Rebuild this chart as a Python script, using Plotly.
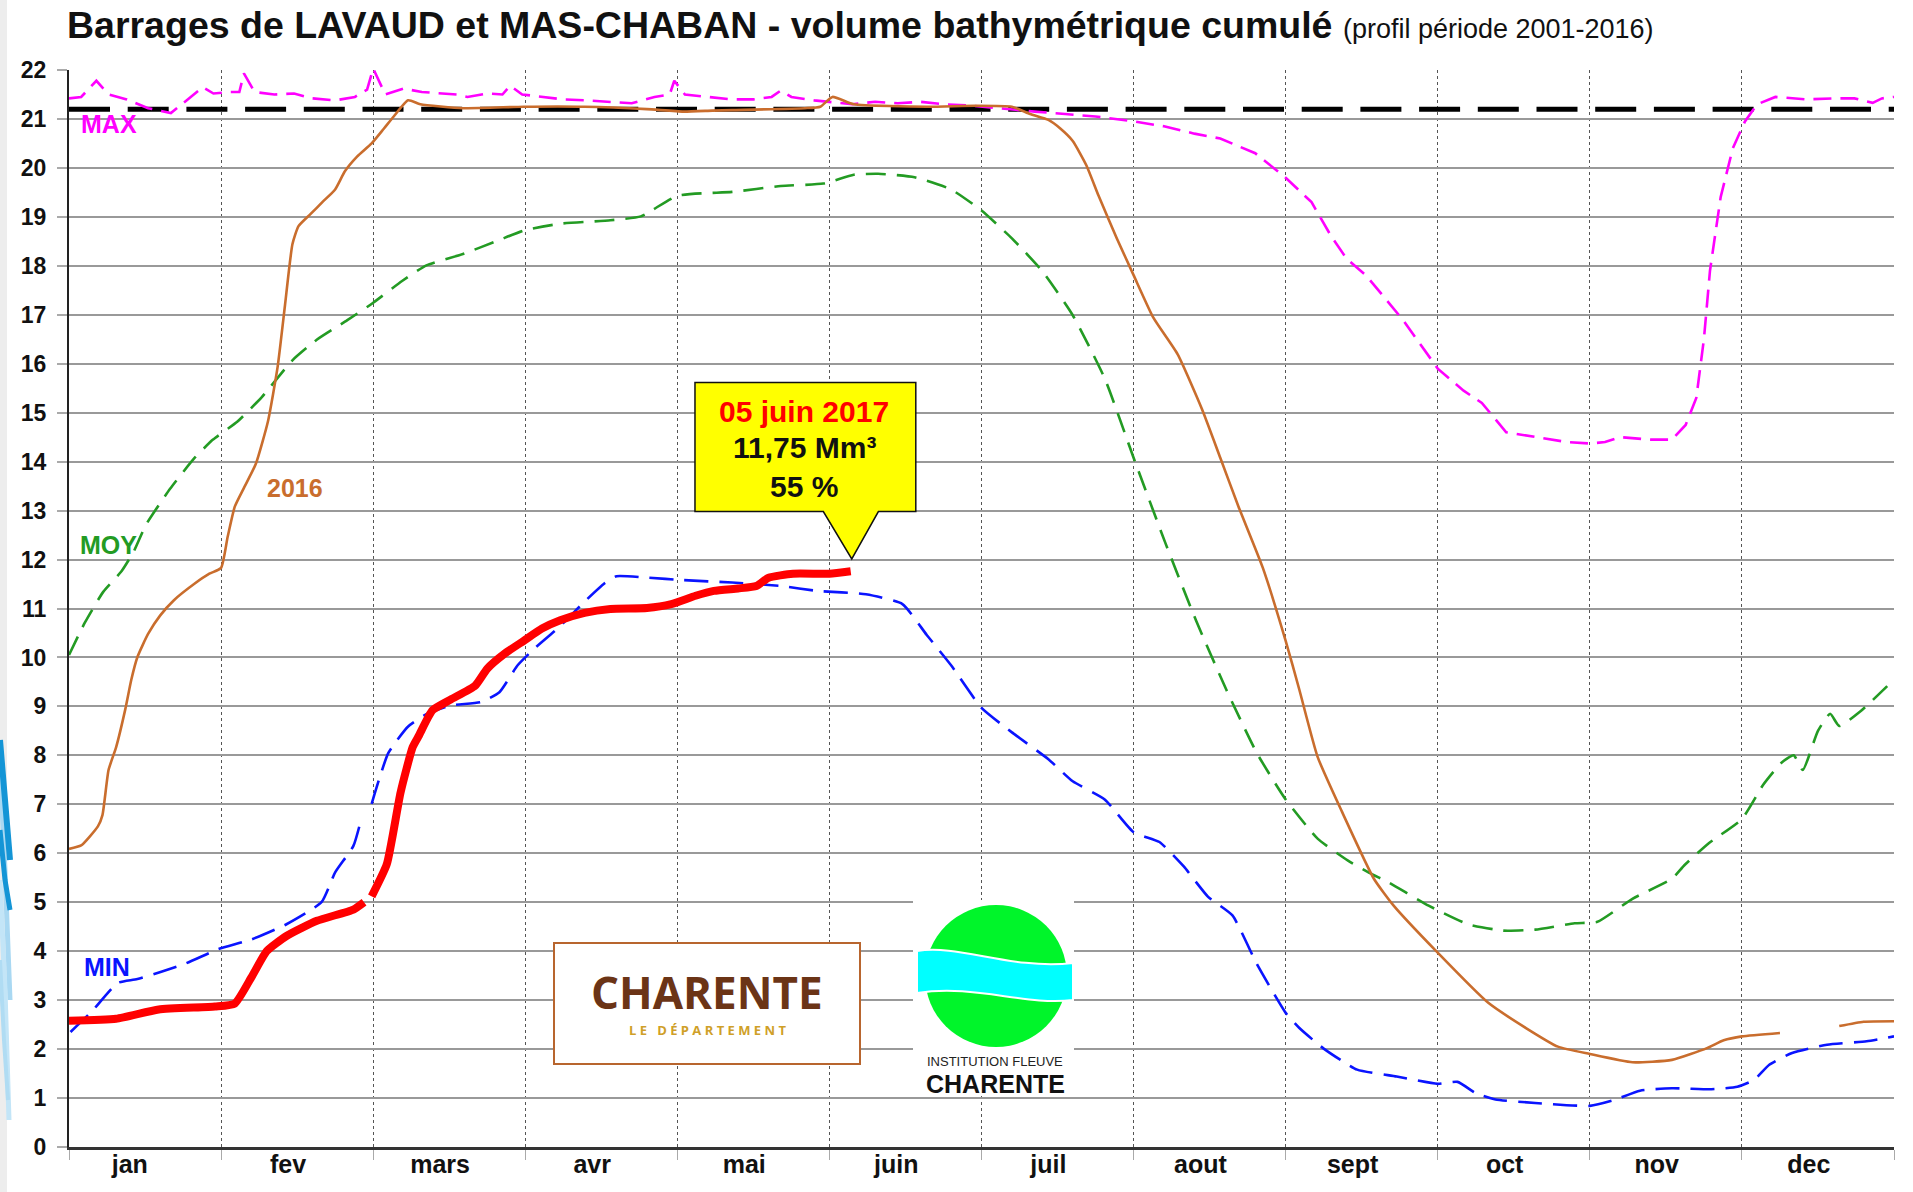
import plotly.graph_objects as go

# ---------------- data (x = month position, 0 = 1 Jan, 12 = 31 Dec) ----------------
month_labels = ["jan", "fev", "mars", "avr", "mai", "juin", "juil", "aout", "sept", "oct", "nov", "dec"]
y_ticks = list(range(0, 23))

max_x = [0.00, 0.08, 0.18, 0.26, 0.38, 0.52, 0.67, 0.78, 0.88, 0.95, 1.05, 1.12, 1.15, 1.22, 1.35, 1.48,
         1.60, 1.75, 1.88, 1.96, 2.00, 2.08, 2.20, 2.32, 2.45, 2.55, 2.62, 2.75, 2.85, 2.90, 2.98, 3.10,
         3.25, 3.40, 3.55, 3.70, 3.85, 3.95, 3.98, 4.05, 4.20, 4.35, 4.50, 4.62, 4.68, 4.75, 4.90, 5.00,
         5.15, 5.30, 5.45, 5.60, 5.75, 5.90, 6.00, 6.15, 6.35, 6.55, 6.75, 7.00, 7.20, 7.40, 7.57, 7.80,
         8.00, 8.17, 8.30, 8.40, 8.53, 8.77, 9.00, 9.17, 9.29, 9.45, 9.65, 9.85, 10.00, 10.10, 10.20,
         10.40, 10.54, 10.63, 10.70, 10.75, 10.79, 10.86, 10.94, 11.02, 11.10, 11.22, 11.42, 11.60,
         11.74, 11.86, 11.92, 12.00]
max_y = [21.42, 21.45, 21.78, 21.50, 21.40, 21.22, 21.12, 21.40, 21.65, 21.52, 21.55, 21.55, 21.93, 21.55,
         21.50, 21.52, 21.42, 21.38, 21.45, 21.60, 22.03, 21.50, 21.62, 21.55, 21.52, 21.50, 21.45, 21.52,
         21.50, 21.68, 21.50, 21.45, 21.40, 21.38, 21.35, 21.32, 21.45, 21.50, 21.78, 21.50, 21.45, 21.40,
         21.40, 21.45, 21.58, 21.45, 21.38, 21.35, 21.30, 21.35, 21.32, 21.35, 21.30, 21.28, 21.25, 21.20,
         21.15, 21.10, 21.05, 20.95, 20.85, 20.70, 20.60, 20.30, 19.80, 19.30, 18.60, 18.15, 17.80, 16.90,
         15.90, 15.45, 15.20, 14.60, 14.50, 14.40, 14.37, 14.40, 14.50, 14.45, 14.45, 14.75, 15.30, 16.50,
         17.90, 19.40, 20.40, 20.95, 21.30, 21.45, 21.40, 21.42, 21.42, 21.33, 21.42, 21.45]

moy_x = [0.00, 0.104, 0.225, 0.345, 0.425, 0.506, 0.666, 0.827, 0.947, 1.108, 1.268, 1.469, 1.629, 1.83,
         1.998, 2.19, 2.35, 2.59, 2.83, 3.00, 3.23, 3.56, 3.76, 4.00, 4.36, 4.68, 4.96, 5.16, 5.32, 5.56,
         5.80, 6.00, 6.20, 6.40, 6.60, 6.81, 7.00, 7.21, 7.41, 7.61, 7.81, 8.00, 8.21, 8.41, 8.55, 8.68,
         8.94, 9.20, 9.43, 9.64, 9.90, 10.05, 10.28, 10.54, 10.62, 10.78, 11.00, 11.14, 11.26, 11.34,
         11.40, 11.50, 11.58, 11.64, 11.78, 12.00]
moy_y = [10.05, 10.71, 11.34, 11.76, 12.16, 12.71, 13.45, 14.08, 14.45, 14.82, 15.32, 16.07, 16.49, 16.89,
         17.24, 17.69, 18.01, 18.24, 18.53, 18.73, 18.86, 18.93, 19.01, 19.43, 19.51, 19.63, 19.68, 19.86,
         19.88, 19.81, 19.56, 19.13, 18.56, 17.89, 16.99, 15.70, 14.08, 12.33, 10.76, 9.34, 8.05, 7.10,
         6.30, 5.85, 5.60, 5.40, 4.93, 4.55, 4.42, 4.44, 4.57, 4.60, 5.07, 5.48, 5.75, 6.20, 6.70, 7.40,
         7.85, 8.00, 7.70, 8.50, 8.85, 8.60, 8.90, 9.55]

min_x = [0.01, 0.15, 0.32, 0.45, 0.76, 0.98, 1.20, 1.43, 1.66, 1.75, 1.87, 1.925, 1.96, 1.99, 2.10, 2.23,
         2.35, 2.51, 2.71, 2.83, 2.95, 3.07, 3.23, 3.39, 3.52, 3.60, 3.80, 4.04, 4.36, 4.68, 4.92, 5.24,
         5.48, 5.64, 5.80, 6.00, 6.20, 6.44, 6.60, 6.81, 7.00, 7.17, 7.33, 7.49, 7.65, 7.81, 8.00, 8.09,
         8.25, 8.47, 8.73, 9.00, 9.13, 9.25, 9.38, 9.64, 10.00, 10.15, 10.33, 10.54, 10.80, 10.97, 11.08,
         11.18, 11.33, 11.56, 11.82, 12.00]
min_y = [2.35, 2.77, 3.35, 3.43, 3.74, 4.04, 4.24, 4.55, 5.00, 5.61, 6.15, 6.74, None, 7.01, 8.05, 8.59,
         8.84, 9.02, 9.09, 9.29, 9.84, 10.21, 10.64, 11.14, 11.51, 11.66, 11.63, 11.58, 11.53, 11.46, 11.36,
         11.29, 11.09, 10.46, 9.84, 8.97, 8.47, 7.92, 7.47, 7.10, 6.43, 6.23, 5.73, 5.11, 4.73, 3.74, 2.74,
         2.43, 2.01, 1.58, 1.44, 1.29, 1.33, 1.10, 0.97, 0.90, 0.84, 0.95, 1.15, 1.20, 1.18, 1.23, 1.37,
         1.68, 1.92, 2.09, 2.16, 2.26]

y2016_x = [0.00, 0.08, 0.19, 0.22, 0.26, 0.31, 0.37, 0.41, 0.45, 0.52, 0.60, 0.69, 0.827, 0.923, 1.00,
           1.043, 1.09, 1.148, 1.228, 1.308, 1.372, 1.42, 1.469, 1.509, 1.589, 1.669, 1.75, 1.814, 1.894,
           1.99, 2.07, 2.135, 2.23, 2.31, 2.59, 2.99, 3.39, 3.80, 4.04, 4.23, 4.36, 4.84, 4.94, 5.02, 5.16,
           5.64, 5.96, 6.20, 6.32, 6.44, 6.52, 6.60, 6.69, 6.77, 6.89, 7.00, 7.13, 7.29, 7.45, 7.57, 7.69,
           7.85, 8.00, 8.09, 8.21, 8.37, 8.58, 8.71, 8.99, 9.33, 9.58, 9.79, 10.00, 10.28, 10.54, 10.77,
           10.88, 11.00, 11.25, 11.45, 11.64, 11.80, 12.00]
y2016_y = [6.09, 6.16, 6.55, 6.78, 7.70, 8.17, 8.94, 9.55, 10.01, 10.48, 10.86, 11.17, 11.51, 11.71,
           11.83, 12.46, 13.08, 13.45, 13.95, 14.82, 15.94, 17.19, 18.44, 18.81, 19.06, 19.31, 19.56, 19.93,
           20.23, 20.50, 20.80, 21.05, 21.38, 21.30, 21.22, 21.25, 21.25, 21.20, 21.15, 21.17, 21.18, 21.22,
           21.25, 21.45, 21.30, 21.25, 21.27, 21.25, 21.10, 20.98, 20.80, 20.55, 20.05, 19.43, 18.56, 17.81,
           16.94, 16.19, 15.07, 14.08, 13.08, 11.83, 10.34, 9.34, 7.97, 6.85, 5.48, 4.93, 4.00, 2.95, 2.43,
           2.05, 1.90, 1.73, 1.78, 2.02, 2.18, 2.26, 2.33, None, 2.47, 2.56, 2.57]

y2017_x = [0.00, 0.31, 0.59, 0.96, 1.09, 1.20, 1.30, 1.43, 1.63, 1.87, 1.94, 1.965, 1.99, 2.09, 2.18, 2.26,
           2.30, 2.39, 2.51, 2.67, 2.75, 2.87, 2.99, 3.11, 3.23, 3.39, 3.56, 3.80, 3.96, 4.12, 4.24, 4.40,
           4.52, 4.60, 4.76, 5.00, 5.14]
y2017_y = [2.58, 2.62, 2.81, 2.87, 2.93, 3.47, 4.00, 4.31, 4.62, 4.85, 5.00, None, 5.12, 5.78, 7.24, 8.17,
           8.40, 8.92, 9.14, 9.42, 9.77, 10.09, 10.34, 10.59, 10.76, 10.91, 10.99, 11.01, 11.09, 11.26, 11.36,
           11.41, 11.46, 11.63, 11.71, 11.71, 11.76]

max_ref_level = 21.2
current_date = "05 juin 2017"
current_volume = "11,75 Mm³"
current_pct = "55 %"

# ---------------- styling / geometry ----------------
W, H = 1913, 1192
ML, MR, MT, MB = 69, 19, 70, 45
PW, PH = W - ML - MR, H - MT - MB
FONT = "Liberation Sans, Arial, sans-serif"
label_offset = [0.40] + [0.44] * 11


def px(p):
    return (p - ML) / PW


def py(p):
    return (H - MB - p) / PH


def path_px(points, close=True):
    s = "M " + " L ".join(f"{px(x):.5f},{py(y):.5f}" for x, y in points)
    return s + (" Z" if close else "")


fig = go.Figure()

fig.add_trace(go.Scatter(x=[0, 12], y=[max_ref_level, max_ref_level], mode="lines",
                         line=dict(color="black", width=5, dash="41px,17.7px"), hoverinfo="skip"))
fig.add_trace(go.Scatter(x=max_x, y=max_y, mode="lines", name="MAX",
                         line=dict(color="#ff00ff", width=2.6, dash="18px,9px")))
fig.add_trace(go.Scatter(x=moy_x, y=moy_y, mode="lines", name="MOY",
                         line=dict(color="#239b23", width=2.6, dash="20px,11px", shape="spline", smoothing=0.5)))
fig.add_trace(go.Scatter(x=min_x, y=min_y, mode="lines", name="MIN", connectgaps=False,
                         line=dict(color="#0a14ff", width=2.6, dash="24px,11px", shape="spline", smoothing=0.5)))
fig.add_trace(go.Scatter(x=y2016_x, y=y2016_y, mode="lines", name="2016", connectgaps=False,
                         line=dict(color="#c96d2d", width=2.6, shape="spline", smoothing=0.5)))
fig.add_trace(go.Scatter(x=y2017_x, y=y2017_y, mode="lines", name="2017", connectgaps=False,
                         line=dict(color="#ff0000", width=8, shape="spline", smoothing=0.5)))

shapes = []
# left slide decoration
shapes.append(dict(type="rect", xref="paper", yref="paper", x0=px(0), x1=px(7), y0=py(H), y1=py(0),
                   fillcolor="#ededed", line=dict(width=0), layer="below"))
for pts, col, w in [
    ([(0, 765), (5, 870), (10, 1000)], "#a9d8f2", 5),
    ([(0, 880), (5, 990), (9, 1120)], "#c3e5f7", 5),
    ([(0, 960), (4, 1040), (8, 1100)], "#b0dcf3", 4),
    ([(0, 740), (5, 800), (10, 860)], "#1495d6", 6),
    ([(0, 830), (5, 880), (10, 910)], "#1495d6", 5),
]:
    shapes.append(dict(type="path", xref="paper", yref="paper", path=path_px(pts, close=False),
                       line=dict(color=col, width=w), layer="below"))

# yellow callout (data coordinates)
box = [(4.116, 15.614), (5.568, 15.614), (5.568, 12.979), (5.322, 12.979), (5.147, 12.012),
       (4.960, 12.979), (4.116, 12.979)]
shapes.append(dict(type="path", xref="x", yref="y",
                   path="M " + " L ".join(f"{a},{b}" for a, b in box) + " Z",
                   fillcolor="#ffff00", line=dict(color="#111", width=1.5), layer="above"))

# CHARENTE le département logo
shapes.append(dict(type="rect", xref="paper", yref="paper", x0=px(554), x1=px(860), y0=py(1064), y1=py(943),
                   fillcolor="white", line=dict(color="#b8652e", width=2), layer="above"))
# Institution fleuve Charente logo
shapes.append(dict(type="rect", xref="paper", yref="paper", x0=px(913), x1=px(1074), y0=py(1095), y1=py(900),
                   fillcolor="white", line=dict(width=0), layer="above"))
shapes.append(dict(type="circle", xref="paper", yref="paper", x0=px(925), x1=px(1067), y0=py(1047), y1=py(905),
                   fillcolor="#00f52a", line=dict(width=0), layer="above"))
band = (f"M {px(917):.5f},{py(951):.5f} "
        f"C {px(960):.5f},{py(944):.5f} {px(1010):.5f},{py(970):.5f} {px(1073):.5f},{py(963):.5f} "
        f"L {px(1073):.5f},{py(1000):.5f} "
        f"C {px(1025):.5f},{py(1006):.5f} {px(975):.5f},{py(984):.5f} {px(917):.5f},{py(993):.5f} Z")
shapes.append(dict(type="path", xref="paper", yref="paper", path=band,
                   fillcolor="#00ffff", line=dict(color="white", width=2), layer="above"))

annotations = []
lab = dict(xref="x", yref="y", showarrow=False, xanchor="center", yanchor="middle")
annotations += [
    dict(x=0.26, y=20.89, text="<b>MAX</b>", font=dict(family=FONT, size=25, color="#ff00ff"), **lab),
    dict(x=0.26, y=12.29, text="<b>MOY</b>", font=dict(family=FONT, size=25, color="#239b23"), **lab),
    dict(x=1.483, y=13.46, text="<b>2016</b>", font=dict(family=FONT, size=25, color="#c96d2d"), **lab),
    dict(x=0.2525, y=3.67, text="<b>MIN</b>", font=dict(family=FONT, size=25, color="#0a14ff"), **lab),
    dict(x=4.833, y=15.02, text=f"<b>{current_date}</b>", font=dict(family=FONT, size=30, color="#ff0000"), **lab),
    dict(x=4.833, y=14.29, text=f"<b>{current_volume}</b>", font=dict(family=FONT, size=30, color="#111"), **lab),
    dict(x=4.833, y=13.50, text=f"<b>{current_pct}</b>", font=dict(family=FONT, size=30, color="#111"), **lab),
]
pap = dict(xref="paper", yref="paper", showarrow=False, xanchor="center", yanchor="middle")
annotations += [
    dict(x=px(707), y=py(992), text="<b>CHARENTE</b>", font=dict(family="Open Sans, sans-serif", size=44, color="#6b3416"), **pap),
    dict(x=px(707), y=py(1030), text="<b>L E   D É P A R T E M E N T</b>",
         font=dict(family="Open Sans, sans-serif", size=13, color="#cf9f28"), **pap),
    dict(x=px(995), y=py(1061), text="INSTITUTION FLEUVE", font=dict(family=FONT, size=13, color="#222"), **pap),
    dict(x=px(995), y=py(1084), text="<b>CHARENTE</b>", font=dict(family=FONT, size=25, color="#111"), **pap),
]

fig.update_layout(
    width=W, height=H,
    margin=dict(l=ML, r=MR, t=MT, b=MB),
    paper_bgcolor="white", plot_bgcolor="white",
    showlegend=False,
    title=dict(
        text="<b>Barrages de LAVAUD et MAS-CHABAN - volume bathymétrique cumulé</b> "
             "<span style='font-size:27px'>(profil période 2001-2016)</span>",
        font=dict(family=FONT, size=37.5, color="#111"),
        x=67 / W, xref="container", xanchor="left", y=1 - 25 / H, yref="container", yanchor="middle"),
    xaxis=dict(range=[0, 12], tickvals=[m + o for m, o in zip(range(12), label_offset)], ticktext=month_labels,
               ticks="", showgrid=False, zeroline=False, ticklabelstandoff=-7,
               showline=True, linecolor="#333", linewidth=3,
               tickfont=dict(family=FONT, size=25, color="#111", weight="bold"),
               minor=dict(tickvals=list(range(13)), ticks="outside", ticklen=10, tickcolor="#aaa",
                          showgrid=True, gridcolor="#555", griddash="dot", gridwidth=1)),
    yaxis=dict(range=[0, 22], tickvals=y_ticks, ticktext=[str(v) for v in y_ticks],
               showgrid=True, gridcolor="#999", gridwidth=2, zeroline=False,
               ticks="outside", ticklen=10, tickcolor="#aaa", tickwidth=2, ticklabelstandoff=6,
               showline=True, linecolor="#222", linewidth=2,
               tickfont=dict(family=FONT, size=23, color="#111", weight="bold")),
    shapes=shapes,
    annotations=annotations,
)

fig.write_html("out.html", config={"displayModeBar": False},
               post_script="document.body.style.margin='0';document.body.style.overflow='hidden';")
